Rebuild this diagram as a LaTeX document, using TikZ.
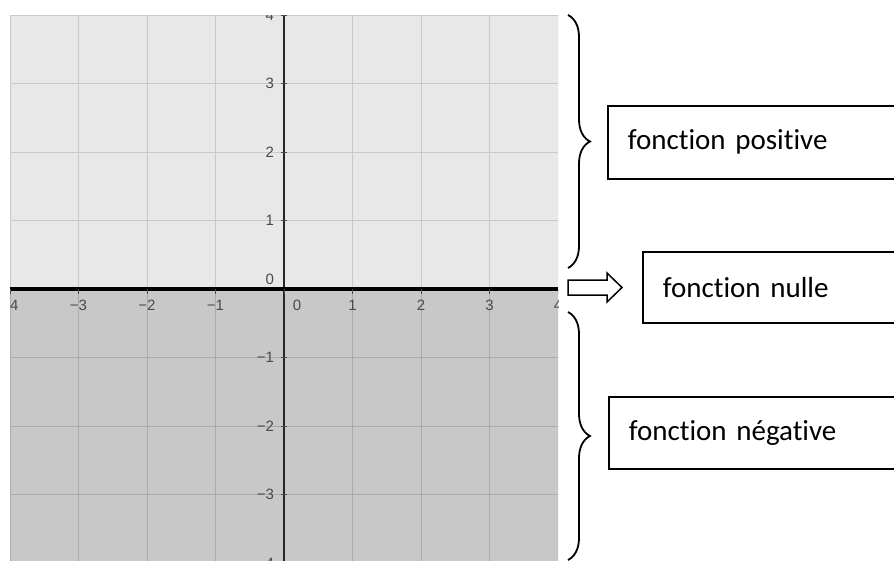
\documentclass[tikz,border=0pt]{standalone}
\usepackage{fontspec}
\setmainfont{Carlito}[Ligatures={NoCommon}]
\newfontfamily\axisfont{Liberation Sans}
\usepackage{xcolor}
\usepackage{tikz}
\usetikzlibrary{decorations.pathreplacing, positioning}

\definecolor{upperfill}{HTML}{E8E8E8}
\definecolor{lowerfill}{HTML}{C8C8C8}
\definecolor{uppergrid}{HTML}{C9C9C9}
\definecolor{lowergrid}{HTML}{ABABAB}
\definecolor{ticklabel}{HTML}{4A4A4A}

\tikzset{
    infobox/.style={draw, line width=1.6pt, anchor=north west, text width=280pt,
        inner xsep=20pt, inner ysep=0pt, align=left,
        font=\fontsize{29}{34}\selectfont},
    ticklab/.style={text=ticklabel, inner sep=0pt,
        font=\axisfont\fontsize{15}{17}\selectfont},
    curly/.style={decorate, decoration={brace, amplitude=22pt}, line width=1.8pt},
}

\begin{document}
\begin{tikzpicture}[x=1pt, y=-1pt]
    \def\unit{68.5pt}
    \def\braceX{568}

    % Fix the page to the reference size
    \useasboundingbox (0,0) rectangle (894,560);
    \clip (0,0) rectangle (894,560);

    % The graph, in its own units
    \begin{scope}[shift={(284,289)}, x=\unit, y=\unit]
        \clip (-4,-4.3) rectangle (4,4);
        \fill[upperfill] (-4,0) rectangle (4,4);
        \fill[lowerfill] (-4,-4.3) rectangle (4,0);

        % grid lines
        \foreach \k in {-4,...,4} {
            \draw[uppergrid, line width=1pt] (\k,0) -- (\k,4);
            \draw[lowergrid, line width=1pt] (\k,-4.3) -- (\k,0);
        }
        \foreach \k in {1,...,4} {
            \draw[uppergrid, line width=1pt] (-4,\k) -- (4,\k);
            \draw[lowergrid, line width=1pt] (-4,-\k) -- (4,-\k);
        }

        % y axis and its ticks
        \draw[line width=1.2pt, black!85] (0,-4.3) -- (0,4);
        \foreach \k in {-4,...,4}
            \draw[line width=0.8pt, black!70] (-0.05,\k) -- (0.05,\k);

        % x axis and its ticks
        \draw[line width=3.5pt] (-4,0) -- (4,0);
        \foreach \k in {-4,...,4}
            \draw[line width=0.8pt, black!70] (\k,0) -- (\k,-0.08);

        % tick labels
        \foreach \k/\t in {1/1,2/2,3/3,4/4,-1/−1,-2/−2,-3/−3,-4/−4}
            \node[ticklab, anchor=east] (ylab\k) at (-0.145,\k) {\t};
        \node[ticklab, anchor=south east] (ylab0) at (-0.145,0.06) {0};
        \foreach \k/\t in {1/1,2/2,3/3,4/4,-1/−1,-2/−2,-3/−3,-4/−4}
            \node[ticklab, anchor=north] (xlab\k) at (\k,-0.16) {\t};
        \node[ticklab, anchor=north] (xlab0) at (0.19,-0.16) {0};
    \end{scope}

    % Braces
    \coordinate (posTop) at (\braceX,15);
    \coordinate (posBot) at (\braceX,268);
    \coordinate (negTop) at (\braceX,312);
    \coordinate (negBot) at (\braceX,560);
    \draw[curly] (posTop) -- (posBot);
    \draw[curly] (negTop) -- (negBot);

    % Block arrow towards the zero line box
    \coordinate (arrowTail) at (568,287.5);
    \draw[line width=1.5pt, fill=white] (arrowTail) ++(0,-7.5) -- ++(39,0) -- ++(0,-7)
        -- ++(15,14.5) -- ++(-15,14.5) -- ++(0,-7) -- ++(-39,0) -- cycle;

    % Text boxes
    \node[infobox, minimum height=73pt] (positive) at (607,105) {fonction positive};
    \node[infobox, minimum height=71pt] (nulle) at (642,251) {fonction nulle};
    \node[infobox, minimum height=72pt] (negative) at (608,396) {fonction négative};
\end{tikzpicture}
\end{document}
